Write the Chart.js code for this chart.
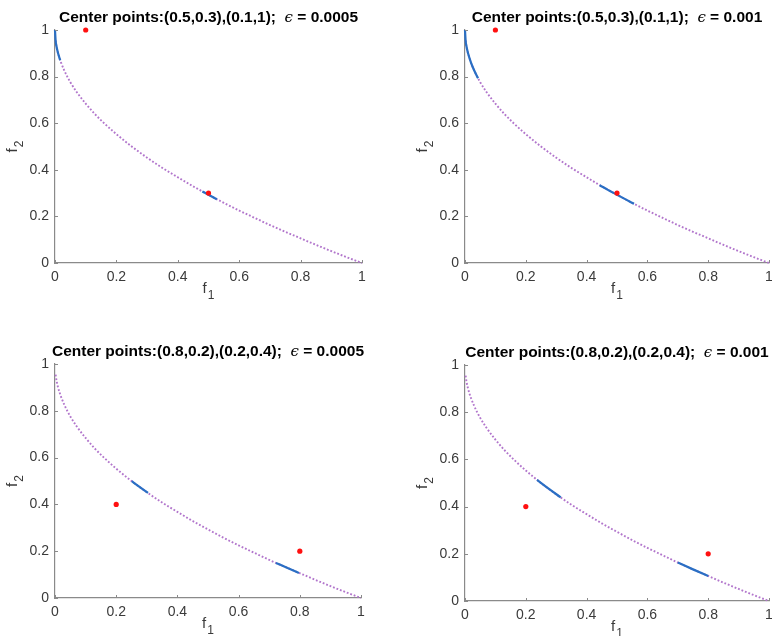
<!DOCTYPE html>
<html><head><meta charset="utf-8">
<script src="https://cdn.jsdelivr.net/npm/chart.js@4.4.1/dist/chart.umd.min.js"></script>
<style>
html,body{margin:0;padding:0;background:#fff;overflow:hidden;width:772px;height:636px;position:relative}
canvas{position:absolute}
</style></head><body>
<canvas id="c0" width="386" height="318" style="left:0;top:0"></canvas>
<canvas id="c1" width="400" height="318" style="left:386px;top:0"></canvas>
<canvas id="c2" width="386" height="318" style="left:0;top:318px"></canvas>
<canvas id="c3" width="400" height="318" style="left:386px;top:318px"></canvas>
<script>
// ---- data ----
const tickValues = [0, 0.2, 0.4, 0.6, 0.8, 1];
const tickLabels = ['0', '0.2', '0.4', '0.6', '0.8', '1'];

// Pareto front (purple dotted)
const frontF1 = [0.002, 0.005, 0.01, 0.02, 0.03, 0.04, 0.05, 0.07, 0.1, 0.13, 0.16, 0.2, 0.25, 0.3, 0.35, 0.4, 0.45, 0.5, 0.55, 0.6, 0.65, 0.7, 0.75, 0.8, 0.85, 0.9, 0.95, 1];
const frontF2 = [0.955, 0.929, 0.9, 0.859, 0.827, 0.8, 0.776, 0.735, 0.684, 0.639, 0.6, 0.553, 0.5, 0.452, 0.408, 0.368, 0.329, 0.293, 0.258, 0.225, 0.194, 0.163, 0.134, 0.106, 0.078, 0.051, 0.025, 0];

// Titles
const titleTexts = ['Center points:(0.5,0.3),(0.1,1);', 'Center points:(0.5,0.3),(0.1,1);', 'Center points:(0.8,0.2),(0.2,0.4);', 'Center points:(0.8,0.2),(0.2,0.4);'];
const epsilonValues = ['0.0005', '0.001', '0.0005', '0.001'];

// Center points (red)
const centersTopF1 = [0.5, 0.1];
const centersTopF2 = [0.3, 1];
const centersBottomF1 = [0.8, 0.2];
const centersBottomF2 = [0.2, 0.4];

// Solution segments (blue)
const segTL1F1 = [0, 0.002, 0.005, 0.01, 0.017];
const segTL1F2 = [1, 0.955, 0.929, 0.9, 0.87];
const segTL2F1 = [0.48, 0.5, 0.527];
const segTL2F2 = [0.307, 0.293, 0.274];
const segTR1F1 = [0, 0.002, 0.005, 0.01, 0.02, 0.03, 0.043];
const segTR1F2 = [1, 0.955, 0.929, 0.9, 0.859, 0.827, 0.793];
const segTR2F1 = [0.443, 0.47, 0.5, 0.53, 0.556];
const segTR2F2 = [0.334, 0.314, 0.293, 0.272, 0.254];
const segBL1F1 = [0.251, 0.275, 0.304];
const segBL1F2 = [0.499, 0.476, 0.449];
const segBL2F1 = [0.722, 0.76, 0.797];
const segBL2F2 = [0.150, 0.128, 0.107];
const segBR1F1 = [0.237, 0.275, 0.315];
const segBR1F2 = [0.513, 0.476, 0.439];
const segBR2F1 = [0.70, 0.75, 0.80];
const segBR2F2 = [0.163, 0.134, 0.106];

// ---- styling ----
const AXIS = '#8a8a8a';
const TEXT = '#3a3a3a';
const PURPLE = '#b276cc';
const BLUE = '#2a6fc4';
const RED = '#ff1010';
const SANS = "'Liberation Sans', Arial, Helvetica, sans-serif";

const zip = (a, b) => a.map((v, i) => ({x: v, y: b[i]}));

function drawSubLabel(ctx, sub, cx, baseY) {
  ctx.font = '15px ' + SANS;
  const wf = ctx.measureText('f').width;
  ctx.font = '12px ' + SANS;
  const ws = ctx.measureText(sub).width;
  const total = wf + 1 + ws;
  let x0 = cx - total / 2;
  ctx.fillStyle = TEXT;
  ctx.textAlign = 'left';
  ctx.textBaseline = 'alphabetic';
  ctx.font = '15px ' + SANS;
  ctx.fillText('f', x0, baseY);
  ctx.font = '12px ' + SANS;
  ctx.fillText(sub, x0 + wf + 1, baseY + 6);
}

const decor = {
  id: 'decor',
  afterDraw(chart, args, opts) {
    const {ctx, chartArea: a, scales: {x, y}} = chart;
    ctx.save();
    // inward tick marks
    ctx.strokeStyle = AXIS;
    ctx.lineWidth = 1;
    tickValues.forEach(v => {
      const px = Math.round(x.getPixelForValue(v)) + 0.5;
      ctx.beginPath(); ctx.moveTo(px, a.bottom); ctx.lineTo(px, a.bottom - 3); ctx.stroke();
      const py = Math.round(y.getPixelForValue(v)) + 0.5;
      ctx.beginPath(); ctx.moveTo(a.left, py); ctx.lineTo(a.left + 3, py); ctx.stroke();
    });
    // title
    const bold = 'bold 15.5px ' + SANS;
    const epsFont = "italic 15px 'DejaVu Serif', serif";
    const parts = [
      {t: opts.title + '  ', f: bold},
      {t: '\u03F5', f: epsFont},
      {t: ' = ' + opts.eps, f: bold}
    ];
    let total = 0;
    parts.forEach(p => { ctx.font = p.f; p.w = ctx.measureText(p.t).width; total += p.w; });
    let tx = (a.left + a.right) / 2 - total / 2;
    ctx.fillStyle = '#000';
    ctx.textAlign = 'left';
    ctx.textBaseline = 'alphabetic';
    parts.forEach(p => { ctx.font = p.f; ctx.fillText(p.t, tx, a.top - 8); tx += p.w; });
    // axis titles
    drawSubLabel(ctx, '1', (a.left + a.right) / 2, a.bottom + 30);
    ctx.save();
    ctx.translate(a.left - 38, (a.top + a.bottom) / 2);
    ctx.rotate(-Math.PI / 2);
    drawSubLabel(ctx, '2', 0, 0);
    ctx.restore();
    ctx.restore();
  }
};

function axis(sizeProp, size) {
  return {
    type: 'linear', min: 0, max: 1,
    afterBuildTicks: s => { s.ticks = tickValues.map(v => ({value: v})); },
    afterFit: s => { s[sizeProp] = size; },
    ticks: {
      callback: (v, i) => tickLabels[i],
      font: {family: SANS, size: 14},
      color: TEXT, padding: 6, maxRotation: 0, autoSkip: false
    },
    grid: {display: false, drawTicks: false},
    border: {display: true, color: AXIS, width: 1.2}
  };
}

function makeChart(id, idx, cfg) {
  const datasets = [
    {data: zip(cfg.cF1, cfg.cF2), showLine: false, pointRadius: 2.6, pointBackgroundColor: RED, pointBorderWidth: 0, order: 1, clip: false},
  ];
  cfg.segs.forEach(s => datasets.push({
    data: zip(s[0], s[1]), showLine: true, borderColor: BLUE, borderWidth: 2.2,
    pointRadius: 0, cubicInterpolationMode: 'monotone', order: 2, clip: false
  }));
  datasets.push({
    data: zip(frontF1, frontF2), showLine: true, borderColor: PURPLE, borderWidth: 1.9,
    borderDash: [1.8, 1.9], borderCapStyle: 'butt', pointRadius: 0,
    cubicInterpolationMode: 'monotone', order: 3, clip: false
  });
  new Chart(document.getElementById(id), {
    type: 'scatter',
    data: {datasets},
    options: {
      responsive: false, animation: false, events: [],
      layout: {padding: {top: cfg.top, right: cfg.right, left: 0, bottom: 0}},
      plugins: {
        legend: {display: false}, tooltip: {enabled: false}, title: {display: false},
        decor: {title: titleTexts[idx], eps: epsilonValues[idx]}
      },
      scales: {x: axis('height', cfg.xh), y: axis('width', cfg.yw)}
    },
    plugins: [decor]
  });
}

makeChart('c0', 0, {cF1: centersTopF1, cF2: centersTopF2, segs: [[segTL1F1, segTL1F2], [segTL2F1, segTL2F2]], top: 30, right: 24, xh: 55, yw: 55});
makeChart('c1', 1, {cF1: centersTopF1, cF2: centersTopF2, segs: [[segTR1F1, segTR1F2], [segTR2F1, segTR2F2]], top: 30, right: 17, xh: 55, yw: 79});
makeChart('c2', 2, {cF1: centersBottomF1, cF2: centersBottomF2, segs: [[segBL1F1, segBL1F2], [segBL2F1, segBL2F2]], top: 46, right: 25, xh: 38, yw: 55});
makeChart('c3', 3, {cF1: centersBottomF1, cF2: centersBottomF2, segs: [[segBR1F1, segBR1F2], [segBR2F1, segBR2F2]], top: 47, right: 17, xh: 35, yw: 79});
</script>
</body></html>
